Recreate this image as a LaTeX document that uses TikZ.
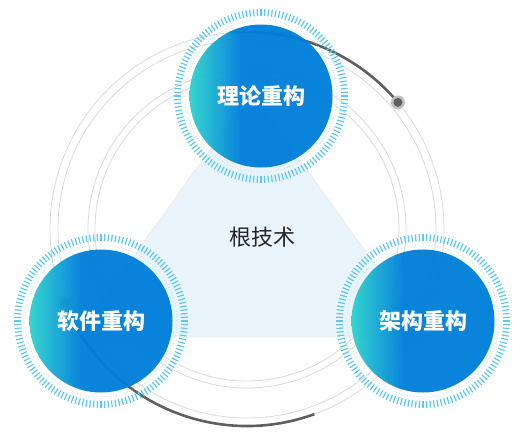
\documentclass[tikz,border=0pt]{standalone}
\usepackage{fontspec}
\newfontfamily\cjk{Noto Sans CJK SC}
\usepackage{tikz}
\usetikzlibrary{calc}
\usepackage{color}
\definecolor{turquoise}{RGB}{46, 212, 206}
\definecolor{azure}{RGB}{0, 126, 218}
\definecolor{tickblue}{RGB}{90, 200, 245}
\definecolor{paleblue}{RGB}{234, 244, 253}
\definecolor{ringgray}{RGB}{218, 218, 218}
\definecolor{arcgray}{RGB}{95, 95, 95}
\pgfdeclarehorizontalshading{ballgrad}{100bp}{color(0bp)=(turquoise); color(25bp)=(turquoise); color(43bp)=(azure); color(100bp)=(azure)}

\begin{document}
\begin{tikzpicture}[x=1pt, y=-1pt,
    ball/.style={circle, minimum size=143pt, inner sep=0pt, shade, shading=ballgrad,
                 fill opacity=0.96, text opacity=1, text=white,
                 font=\cjk\bfseries\fontsize{22}{26}\selectfont},
    tick/.style={color=tickblue, line width=1.2pt},
    dotring/.style={color=tickblue!50, line width=0.8pt, dotted},
    ring/.style={color=ringgray, line width=0.8pt},
    darkarc/.style={color=arcgray, line width=2.6pt}]
            \useasboundingbox (0, 0) rectangle (523, 437);
            % Orbit rings
            \coordinate (hub) at (247, 229);
            \draw[ring] (hub) circle (152);
            \draw[ring] (hub) circle (159);
            \draw[ring] (hub) circle (189);
            \draw[ring] (hub) circle (197);
            % Core triangle
            \fill[color=paleblue, draw=gray!15, line width=0.8pt] (251, 92) -- (76, 337) -- (427, 337) -- cycle;
            \node[font=\cjk\fontsize{22}{26}\selectfont, text=black!85] (root) at (262, 237) {根技术};
            % Dark arcs with knobs
            \coordinate (knobA) at ($(hub)+(-40:197)$);
            \coordinate (knobB) at ($(hub)+(158:197)$);
            \draw[darkarc] (hub) ++(-95:197) arc[start angle=-95, end angle=-40, radius=197];
            \draw[darkarc] (knobB) arc[start angle=158, end angle=70, radius=197];
            \fill[color=arcgray!40] (knobA) circle (7);
            \fill[color=arcgray]    (knobA) circle (4.5);
            \fill[color=arcgray!40] (knobB) circle (7);
            \fill[color=arcgray]    (knobB) circle (4.5);
            % Discs
            \node[ball] (theory)   at (261,  96) {理论重构};
            \node[ball] (software) at (101, 321) {软件重构};
            \node[ball] (arch)     at (423, 321) {架构重构};
            % Tick rings
            \foreach \n in {theory, software, arch} {
                \draw[dotring] (\n) circle (76);
                \foreach \k in {0, ..., 143}
                    \draw[tick] (\n) ++(\k*2.5:80) -- ++(\k*2.5:7);
            }
\end{tikzpicture}
\end{document}
